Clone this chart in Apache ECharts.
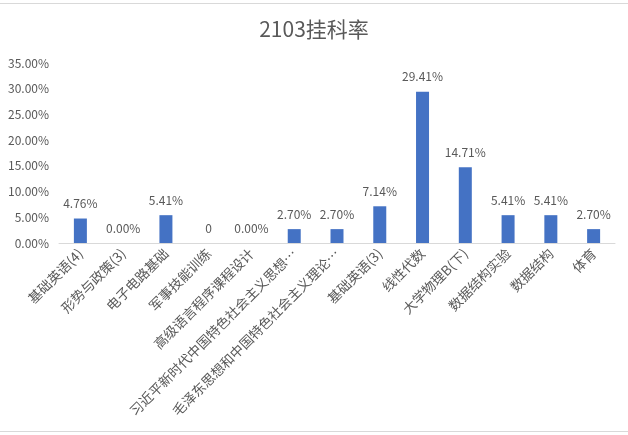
<!DOCTYPE html>
<html>
<head>
<meta charset="utf-8">
<script src="https://cdn.jsdelivr.net/npm/echarts@6/dist/echarts.min.js"></script>
<style>
  html,body{margin:0;padding:0;background:#fff;}
  .main{width:628px;height:435px;}
</style>
</head>
<body>
<div class="main"></div>
<script>
var courses = ['基础英语(4)', '形势与政策(3)', '电子电路基础', '军事技能训练', '高级语言程序课程设计',
  '习近平新时代中国特色社会主义思想…', '毛泽东思想和中国特色社会主义理论…', '基础英语(3)', '线性代数',
  '大学物理B(下)', '数据结构实验', '数据结构', '体育'];
var rates = [4.76, 0, 5.41, 0, 0, 2.70, 2.70, 7.14, 29.41, 14.71, 5.41, 5.41, 2.70];
var rateLabels = ['4.76%', '0.00%', '5.41%', '0', '0.00%', '2.70%', '2.70%', '7.14%', '29.41%', '14.71%', '5.41%', '5.41%', '2.70%'];

var font = '"Noto Sans CJK SC", sans-serif';
var myChart = echarts.init(document.querySelector('.main'));
var option = {
  textStyle: {fontFamily: font},
  title: {
    text: '2103挂科率',
    left: 'center',
    top: 14,
    textStyle: {fontSize: 21, fontWeight: 'normal', color: '#595959', fontFamily: font}
  },
  graphic: [
    {type: 'line', shape: {x1: 0, y1: 3.5, x2: 628, y2: 3.5}, style: {stroke: '#d9d9d9', lineWidth: 1}},
    {type: 'line', shape: {x1: 0, y1: 431.5, x2: 628, y2: 431.5}, style: {stroke: '#d9d9d9', lineWidth: 1}}
  ],
  grid: {left: 59, right: 13, top: 63, bottom: 192},
  xAxis: {
    type: 'category',
    data: courses,
    axisLine: {lineStyle: {color: '#d9d9d9'}},
    axisTick: {show: false},
    axisLabel: {rotate: 45, interval: 0, color: '#595959', fontSize: 13.5, margin: 8}
  },
  yAxis: {
    type: 'value',
    min: 0,
    max: 35,
    interval: 5,
    splitLine: {show: false},
    axisLine: {show: false},
    axisTick: {show: false},
    axisLabel: {
      color: '#595959',
      fontSize: 12,
      margin: 10,
      formatter: function (v) { return v.toFixed(2) + '%'; }
    }
  },
  series: [{
    type: 'bar',
    data: rates,
    barWidth: 13,
    itemStyle: {color: '#4472c4'},
    label: {
      show: true,
      position: 'top',
      distance: 9,
      color: '#595959',
      fontSize: 12,
      formatter: function (p) { return rateLabels[p.dataIndex]; }
    }
  }]
};
myChart.setOption(option);
</script>
</body>
</html>
